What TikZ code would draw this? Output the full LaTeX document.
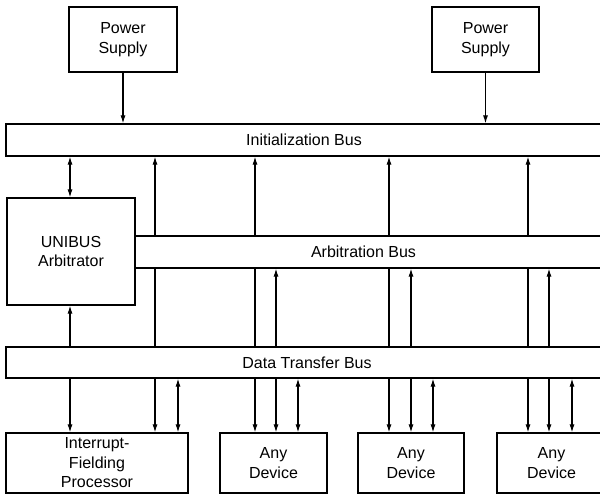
\documentclass[tikz,border=0pt]{standalone}
\usepackage{fontspec}
\setmainfont{Liberation Sans}
\usetikzlibrary{arrows.meta,backgrounds}
\begin{document}
\begin{tikzpicture}[x=1pt,y=-1pt, line width=1.2pt,
 txt/.style={font=\fontsize{16}{19.5}\selectfont},
 box/.style={draw, fill=white, rectangle, inner sep=0pt, align=center, txt},
 bus/.style={draw, fill=white, rectangle, inner sep=0pt},
 lbl/.style={inner sep=0pt, txt},
 conn/.style={-{Latex[length=8pt,width=5pt]}, line width=1.1pt},
 both/.style={{Latex[length=8pt,width=5pt]}-{Latex[length=8pt,width=5pt]}, line width=1.1pt}]
\useasboundingbox (0,0) rectangle (600,495);
\clip (0,0) rectangle (600,495);

% boxes
\node[box, minimum width=108pt, minimum height=65pt] (ps1) at (123,39.5) {Power\\Supply};
\node[box, minimum width=107pt, minimum height=65pt] (ps2) at (485.5,39.5) {Power\\Supply};
\node[box, minimum width=128pt, minimum height=107pt] (uarb) at (71,251.5) {UNIBUS\\Arbitrator};
\node[box, minimum width=182pt, minimum height=60pt] (proc) at (97,463) {Interrupt-\\Fielding\\Processor};
\node[box, minimum width=107pt, minimum height=60pt] (dev1) at (273.5,463) {Any\\Device};
\node[box, minimum width=106pt, minimum height=60pt] (dev2) at (411,463) {Any\\Device};
\node[box, minimum width=109pt, minimum height=60pt] (dev3) at (551.5,463) {Any\\Device};

% buses
\node[bus, minimum width=609pt, minimum height=32pt] (init) at (310.5,140) {};
\node[bus, minimum width=480pt, minimum height=32pt] (arb) at (375,252) {};
\node[bus, minimum width=609pt, minimum height=31pt] (data) at (310.5,362.5) {};
\node[lbl] (initl) at (304,140) {Initialization Bus};
\node[lbl] (arbl) at (363.5,252) {Arbitration Bus};
\node[lbl] (datal) at (307,362.5) {Data Transfer Bus};

% x positions of the connectors
\coordinate (xa) at (70,0);
\coordinate (xb) at (155,0);
\coordinate (xc) at (178,0);
\coordinate (xd) at (255,0);
\coordinate (xe) at (276,0);
\coordinate (xf) at (298,0);
\coordinate (xg) at (389,0);
\coordinate (xh) at (411,0);
\coordinate (xi) at (433,0);
\coordinate (xj) at (528,0);
\coordinate (xk) at (549,0);
\coordinate (xl) at (572,0);

\begin{pgfonlayer}{background}
\fill[white] (0,0) rectangle (600,495);
% power supplies
\draw[conn] (ps1.south) -- (ps1.south |- init.north);
\draw[conn] (ps2.south) -- (ps2.south |- init.north);
% arbitrator
\draw[both] (xa |- init.south) -- (xa |- uarb.north);
\draw[conn] (xa |- data.north) -- (xa |- uarb.south);
% upward to initialization bus
\draw[conn] (xb |- data.north) -- (xb |- init.south);
\draw[conn] (xd |- data.north) -- (xd |- init.south);
\draw[conn] (xg |- data.north) -- (xg |- init.south);
\draw[conn] (xj |- data.north) -- (xj |- init.south);
% upward to arbitration bus
\draw[conn] (xe |- data.north) -- (xe |- arb.south);
\draw[conn] (xh |- data.north) -- (xh |- arb.south);
\draw[conn] (xk |- data.north) -- (xk |- arb.south);
% below the data transfer bus
\draw[conn] (xa |- data.south) -- (xa |- proc.north);
\draw[conn] (xb |- data.south) -- (xb |- proc.north);
\draw[both] (xc |- data.south) -- (xc |- proc.north);
\draw[conn] (xd |- data.south) -- (xd |- dev1.north);
\draw[conn] (xe |- data.south) -- (xe |- dev1.north);
\draw[both] (xf |- data.south) -- (xf |- dev1.north);
\draw[conn] (xg |- data.south) -- (xg |- dev2.north);
\draw[conn] (xh |- data.south) -- (xh |- dev2.north);
\draw[both] (xi |- data.south) -- (xi |- dev2.north);
\draw[conn] (xj |- data.south) -- (xj |- dev3.north);
\draw[conn] (xk |- data.south) -- (xk |- dev3.north);
\draw[both] (xl |- data.south) -- (xl |- dev3.north);
\end{pgfonlayer}
\end{tikzpicture}
\end{document}
